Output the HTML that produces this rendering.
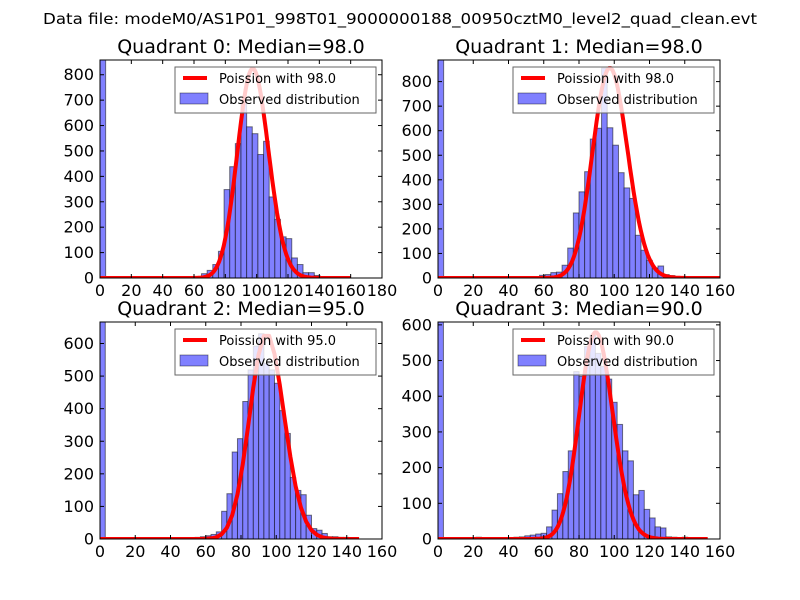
<!DOCTYPE html>
<html><head><meta charset="utf-8">
<style>
html,body{margin:0;padding:0;background:#fff;}
svg{display:block;font-family:"DejaVu Sans","Liberation Sans",sans-serif;}
</style></head>
<body>
<svg id="chart" width="800" height="600" viewBox="0 0 800 600" xmlns="http://www.w3.org/2000/svg">
<rect width="800" height="600" fill="#fff"/>
<text x="400" y="24" font-size="15" text-anchor="middle" textLength="714" lengthAdjust="spacingAndGlyphs">Data file: modeM0/AS1P01_998T01_9000000188_00950cztM0_level2_quad_clean.evt</text>
</svg>
<script>
// ---- data ----
const quadTitles = ["Quadrant 0: Median=98.0","Quadrant 1: Median=98.0","Quadrant 2: Median=95.0","Quadrant 3: Median=90.0"];
const legendLabels = ["Poission with 98.0","Poission with 98.0","Poission with 95.0","Poission with 90.0"];
const xMax = [180,160,160,160];
const yMax = [858,888,666,608];
const xTicks0 = [0,20,40,60,80,100,120,140,160,180];
const xTicks = [0,20,40,60,80,100,120,140,160];
const yTicks01 = [0,100,200,300,400,500,600,700,800];
const yTicks23 = [0,100,200,300,400,500,600];
const binWidth = [3.6,3.2,3.0,3.08];
const zeroBin = [900,900,700,650];
const binStart0 = 17;
const counts0 = [5,17,30,53,105,348,438,529,700,595,568,486,538,319,231,162,155,79,53,21,21,10,5,3,3,3,2];
const binStart1 = 18;
const counts1 = [11,14,22,24,52,122,265,351,433,566,610,855,612,541,429,367,324,174,113,72,41,49,14,10,4];
const binStart2 = 18;
const counts2 = [5,7,10,14,22,85,139,267,308,422,519,592,630,539,519,478,394,324,189,149,136,73,32,27,17,7,7,5,5,3];
const binStart3 = 7;
const counts3 = [5,3,3,3,2,3,4,5,6,9,11,14,16,34,81,127,189,247,469,456,539,571,520,483,448,383,321,247,219,124,136,83,59,34,31,6,5,2,5];
const poissonMean = [98,98,95,90];
const poissonPeak = [824,855,630,579];
const curveEnd = [160,160,148,153];
const curveStep = [1,1,3,1];

// ---- layout ----
const NS="http://www.w3.org/2000/svg";
const svg=document.getElementById('chart');
const boxes=[{l:100,r:382,t:60,b:278},{l:438,r:720,t:60,b:278},{l:100,r:382,t:322,b:539},{l:438,r:720,t:322,b:539}];
const allCounts=[counts0,counts1,counts2,counts3];
const allStarts=[binStart0,binStart1,binStart2,binStart3];
function mk(tag,attrs,parent){const e=document.createElementNS(NS,tag);for(const k in attrs)e.setAttribute(k,attrs[k]);(parent||svg).appendChild(e);return e;}
function lgamma(z){
  let s=0; while(z<8){s-=Math.log(z);z+=1;}
  return s+(z-0.5)*Math.log(z)-z+0.5*Math.log(2*Math.PI)+1/(12*z)-1/(360*z*z*z);
}
function logpmf(k,mu){return k*Math.log(mu)-mu-lgamma(k+1);}

for(let q=0;q<4;q++){
  const B=boxes[q];
  const sx=v=>B.l+(v/xMax[q])*(B.r-B.l);
  const sy=v=>B.b-(v/yMax[q])*(B.b-B.t);
  const g=mk('g',{});
  
  
  const clipId='clip'+q;
  const cp=mk('clipPath',{id:clipId},g);
  mk('rect',{x:B.l,y:B.t,width:B.r-B.l,height:B.b-B.t},cp);
  const plot=mk('g',{'clip-path':'url(#'+clipId+')'},g);
  const zb=mk('rect',{x:sx(0),y:sy(zeroBin[q]),width:sx(binWidth[q])-sx(0),height:sy(0)-sy(zeroBin[q]),fill:'#8080ff','stroke':'rgba(0,0,0,0.5)','stroke-width':1},plot);
  
  
  const c=allCounts[q];
  for(let i=0;i<c.length;i++){
    const x0=(allStarts[q]+i)*binWidth[q];
    const r=mk('rect',{x:sx(x0),y:sy(c[i]),width:sx(x0+binWidth[q])-sx(x0),height:sy(0)-sy(c[i]),fill:'#8080ff',stroke:'rgba(0,0,0,0.5)','stroke-width':1},plot);
    
    
  }
  const mu=poissonMean[q], ref=logpmf(mu,mu);
  let pts=[];
  for(let k=0;k<=curveEnd[q]+1e-9;k+=curveStep[q]){
    pts.push(sx(k).toFixed(1)+','+sy(poissonPeak[q]*Math.exp(logpmf(k,mu)-ref)).toFixed(1));
  }
  const pl=mk('polyline',{points:pts.join(' '),fill:'none',stroke:'#ff0000','stroke-width':4,'stroke-linejoin':'round'},plot);
  
  
  mk('rect',{x:B.l,y:B.t,width:B.r-B.l,height:B.b-B.t,fill:'none',stroke:'#000','stroke-width':1},g);
  const xt=q===0?xTicks0:xTicks;
  xt.forEach(v=>{
    const x=sx(v);
    mk('line',{x1:x,y1:B.b,x2:x,y2:B.b-4,stroke:'#000'},g);
    mk('line',{x1:x,y1:B.t,x2:x,y2:B.t+4,stroke:'#000'},g);
    const t=mk('text',{x:x,y:B.b+18,'font-size':16,'text-anchor':'middle'},g);
    t.textContent=v;
    
    
  });
  const yt=q<2?yTicks01:yTicks23;
  yt.forEach(v=>{
    const y=sy(v);
    mk('line',{x1:B.l,y1:y,x2:B.l+4,y2:y,stroke:'#000'},g);
    mk('line',{x1:B.r,y1:y,x2:B.r-4,y2:y,stroke:'#000'},g);
    const t=mk('text',{x:B.l-6,y:y+5.5,'font-size':16,'text-anchor':'end'},g);
    t.textContent=v;
    
    
  });
  const tt=mk('text',{x:(B.l+B.r)/2,y:B.t-7,'font-size':19,'text-anchor':'middle'},g);
  tt.textContent=quadTitles[q];
  
  
  const lg=mk('g',{},g);
  
  
  const lx=B.l+75, ly=B.t+7;
  mk('rect',{x:lx,y:ly,width:201,height:46,fill:'rgba(255,255,255,0.8)',stroke:'#666','stroke-width':1},lg);
  mk('line',{x1:lx+8,y1:ly+11,x2:lx+32,y2:ly+11,stroke:'#ff0000','stroke-width':4},lg);
  mk('rect',{x:lx+5,y:ly+26,width:28,height:11,fill:'#8080ff',stroke:'rgba(0,0,0,0.5)','stroke-width':0.8},lg);
  const t1=mk('text',{x:lx+44,y:ly+16,'font-size':13},lg);
  t1.textContent=legendLabels[q];
  
  
  const t2=mk('text',{x:lx+44,y:ly+37,'font-size':13},lg);
  t2.textContent='Observed distribution';
  
  
}
</script>
</body></html>
